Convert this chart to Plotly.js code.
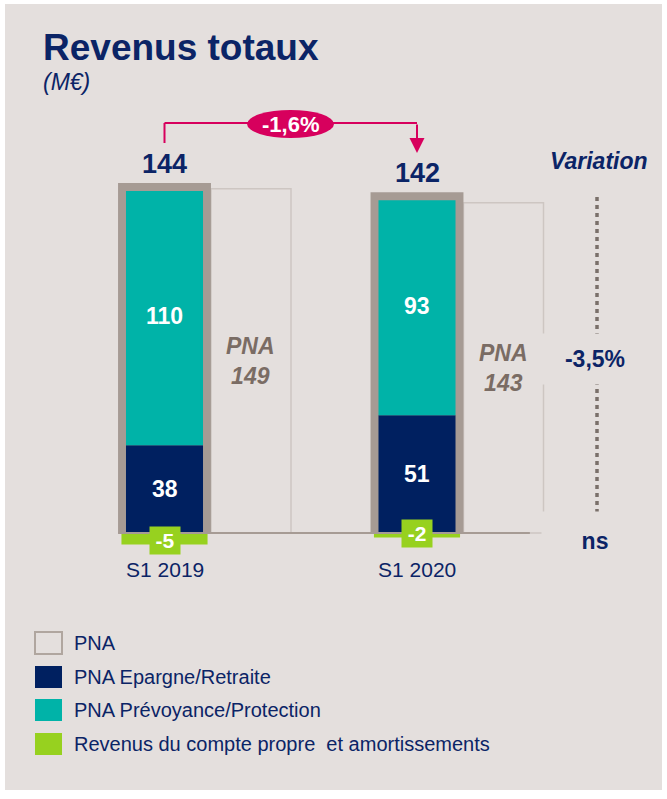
<!DOCTYPE html>
<html><head><meta charset="utf-8">
<script src="https://cdn.plot.ly/plotly-3.0.1.min.js"></script>
<style>html,body{margin:0;padding:0;background:#fff}</style>
</head><body><div id="chart" style="width:667px;height:799px"></div>
<script>
// ---- data ----
const periods = ['S1 2019', 'S1 2020'];
const revenusTotaux = [144, 142];
const pnaTotal = [149, 143];
const pnaEpargne = [38, 51];
const pnaPrevoyance = [110, 93];
const comptePropre = [-5, -2];
const variationTotal = '-1,6%';
const variationPNA = '-3,5%';
const variationCP = 'ns';
const legendLabels = ['PNA', 'PNA Epargne/Retraite', 'PNA Prévoyance/Protection',
  'Revenus du compte propre\u00a0 et amortissements'];

// ---- styles ----
const W = 667, H = 799;
const BG = '#e4dfdd', NAVY = '#002060', TEAL = '#00b3a8', GREEN = '#97d11f',
      FRAME = '#a69b94', PNA_LINE = '#cdc6c2', PNA_TXT = '#7a6c64', PINK = '#d7005d',
      TXT = '#0b2466', DOT = '#7a706a';
const FONT = 'Liberation Sans, Arial, sans-serif';
const Y_PPU = 2.31, Y0 = 533, X_PPU = 252.5, X0 = 164.5;
const FRAME_PAD = 3.5;
const BAR_W = 0.305, FRAME_W = 0.368, GREEN_W = 0.341, PNA_W = 0.317, PNA_OFF = 0.184;

const px = v => v / W;
const py = v => 1 - v / H;
const xs = periods.map((_, i) => i);
const stack = xs.map(i => pnaEpargne[i] + pnaPrevoyance[i]);

const common = {type: 'bar', x: xs, hoverinfo: 'skip', showlegend: false};
const traces = [
  Object.assign({}, common, {y: pnaTotal, width: PNA_W, offset: PNA_OFF,
    marker: {color: 'rgba(0,0,0,0)', line: {color: PNA_LINE, width: 1.5}}}),
  Object.assign({}, common, {y: stack.map(v => v + FRAME_PAD), width: FRAME_W,
    marker: {color: FRAME, line: {width: 0}}}),
  Object.assign({}, common, {y: pnaEpargne, width: BAR_W,
    marker: {color: NAVY, line: {width: 0}}}),
  Object.assign({}, common, {y: pnaPrevoyance, base: pnaEpargne, width: BAR_W,
    marker: {color: TEAL, line: {width: 0}}}),
  Object.assign({}, common, {y: comptePropre, width: GREEN_W,
    marker: {color: GREEN, line: {width: 0}}})
];

const ann = [];
const f = (size, color, extra) => Object.assign({family: FONT, size: size, color: color}, extra || {});
const C = {xanchor: 'center', yanchor: 'middle', showarrow: false};
// title
ann.push({xref: 'paper', yref: 'paper', x: px(41), y: py(48), xanchor: 'left', yanchor: 'middle',
  text: '<b>Revenus totaux</b>', showarrow: false, font: f(37, TXT)});
ann.push({xref: 'paper', yref: 'paper', x: px(41), y: py(82), xanchor: 'left', yanchor: 'middle',
  text: '<i>(M€)</i>', showarrow: false, font: f(23, TXT)});
xs.forEach(i => {
  ann.push({x: i, y: stack[i] + FRAME_PAD, xanchor: 'center', yanchor: 'bottom', yshift: 2,
    text: '<b>' + revenusTotaux[i] + '</b>', showarrow: false, font: f(27, TXT)});
  ann.push(Object.assign({x: i, y: pnaEpargne[i] / 2, text: '<b>' + pnaEpargne[i] + '</b>',
    font: f(23, '#ffffff')}, C));
  ann.push(Object.assign({x: i, y: pnaEpargne[i] + pnaPrevoyance[i] / 2, yshift: 2,
    text: '<b>' + pnaPrevoyance[i] + '</b>', font: f(23, '#ffffff')}, C));
  ann.push(Object.assign({x: i, y: comptePropre[i], yshift: 4, text: '<b>' + comptePropre[i] + '</b>',
    font: f(21, '#ffffff'), bgcolor: GREEN, width: 28, height: 25}, C));
  ann.push(Object.assign({x: i + PNA_OFF + PNA_W / 2, y: pnaTotal[i] / 2,
    text: '<b><i>PNA<br>' + pnaTotal[i] + '</i></b>', font: f(23, PNA_TXT)}, C));
  ann.push({x: i, y: 0, xanchor: 'center', yanchor: 'top', yshift: -23, text: periods[i],
    showarrow: false, font: f(21, TXT)});
});
ann.push(Object.assign({xref: 'paper', yref: 'paper', x: px(599), y: py(161),
  text: '<b><i>Variation</i></b>', font: f(23, TXT)}, C));
ann.push(Object.assign({xref: 'paper', yref: 'paper', x: px(595), y: py(359),
  text: '<b>' + variationPNA + '</b>', font: f(23, TXT), bgcolor: BG, width: 104, height: 48}, C));
ann.push(Object.assign({xref: 'paper', yref: 'paper', x: px(595), y: py(541),
  text: '<b>' + variationCP + '</b>', font: f(23, TXT), bgcolor: BG, width: 104, height: 56}, C));
ann.push(Object.assign({xref: 'paper', yref: 'paper', x: px(290), y: py(124),
  text: '<b>' + variationTotal + '</b>', font: f(22, '#ffffff')}, C));
ann.push({x: 1, xref: 'x', yref: 'paper', y: py(153), ax: 0, ay: -30, text: '',
  showarrow: true, arrowhead: 2, arrowsize: 1.5, arrowwidth: 2, arrowcolor: PINK, standoff: 0});

const shapes = [
  {type: 'rect', xref: 'paper', yref: 'paper', x0: px(5), x1: px(662), y0: py(4), y1: py(790),
    fillcolor: BG, line: {width: 0}, layer: 'below'},
  {type: 'line', xref: 'x', yref: 'y', x0: -FRAME_W / 2, x1: 1.447, y0: 0, y1: 0,
    line: {color: FRAME, width: 2}, layer: 'above'},
  {type: 'line', xref: 'x', yref: 'paper', x0: 0, x1: 0, y0: py(143), y1: py(123),
    line: {color: PINK, width: 2}},
  {type: 'line', xref: 'x', yref: 'paper', x0: 0, x1: 1, y0: py(123), y1: py(123),
    line: {color: PINK, width: 2}},
  {type: 'circle', xref: 'paper', yref: 'paper', x0: px(247), x1: px(334), y0: py(110), y1: py(138),
    fillcolor: PINK, line: {width: 0}},
  {type: 'line', xref: 'paper', yref: 'paper', x0: px(597), x1: px(597), y0: py(197), y1: py(520),
    line: {color: DOT, width: 3.5, dash: '4px,4px'}}
];

// legend
const legendRows = [643, 677, 710, 744];
const legendFill = ['rgba(0,0,0,0)', NAVY, TEAL, GREEN];
legendLabels.forEach((lab, k) => {
  const cy = legendRows[k];
  shapes.push({type: 'rect', xref: 'paper', yref: 'paper', x0: px(35), x1: px(62),
    y0: py(cy - 11), y1: py(cy + 11), fillcolor: legendFill[k],
    line: k === 0 ? {color: '#b0a69f', width: 2} : {width: 0}});
  ann.push({xref: 'paper', yref: 'paper', x: px(72), y: py(cy), xanchor: 'left', yanchor: 'middle',
    text: lab, showarrow: false, font: f(20, TXT)});
});

const layout = {
  width: W, height: H, margin: {l: 0, r: 0, t: 0, b: 0, pad: 0},
  paper_bgcolor: '#ffffff', plot_bgcolor: 'rgba(0,0,0,0)',
  barmode: 'overlay', showlegend: false,
  xaxis: {range: [-X0 / X_PPU, (W - X0) / X_PPU], visible: false, fixedrange: true},
  yaxis: {range: [-(H - Y0) / Y_PPU, Y0 / Y_PPU], visible: false, fixedrange: true},
  annotations: ann, shapes: shapes, font: {family: FONT}
};
Plotly.newPlot('chart', traces, layout, {displayModeBar: false, staticPlot: true});
</script></body></html>
